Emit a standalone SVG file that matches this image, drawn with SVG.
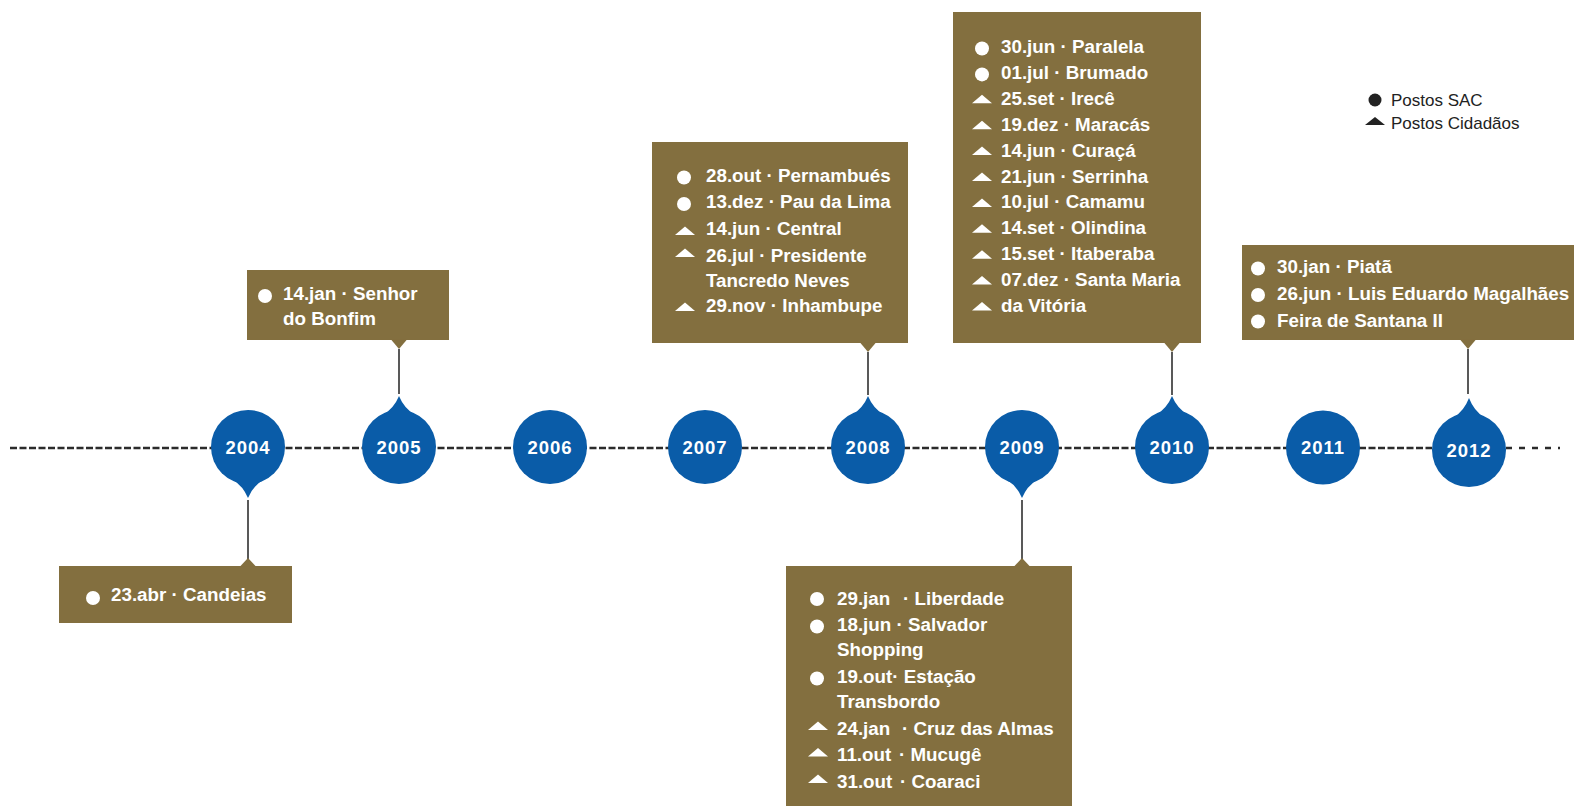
<svg xmlns="http://www.w3.org/2000/svg" xmlns:xlink="http://www.w3.org/1999/xlink" width="1574" height="806" viewBox="0 0 1574 806">
<style>
.box{fill:#836f3f}
.pin{fill:#0a5ca8}
.yr{fill:#fff;font-family:"Liberation Sans",Arial,sans-serif;font-weight:bold;font-size:18.5px;letter-spacing:1px;text-anchor:middle}
.t{fill:#fff;font-family:"Liberation Sans",Arial,sans-serif;font-weight:bold;font-size:18.8px}
.lg{fill:#222;font-family:"Liberation Sans",Arial,sans-serif;font-size:17px}
.conn{stroke:#222;stroke-width:1.5;fill:none}
.axis{stroke:#2b2b2b;stroke-width:2.7;fill:none}
.w{fill:#fff}
</style>
<defs>
<circle id="dot" r="7"/>
<path id="tri" d="M-10,0 L10,0 L0,-8.5 Z"/>
</defs>
<g id="axis">
<line class="axis" x1="10" y1="448" x2="1432" y2="448" stroke-dasharray="7 2.5"/>
<line class="axis" x1="1506" y1="448" x2="1560" y2="448" stroke-dasharray="6 7"/>
</g>
<g id="connectors">
<line class="conn" x1="248" y1="500" x2="248" y2="560"/>
<line class="conn" x1="399" y1="349" x2="399" y2="394"/>
<line class="conn" x1="868" y1="352" x2="868" y2="395"/>
<line class="conn" x1="1022" y1="500" x2="1022" y2="559"/>
<line class="conn" x1="1172" y1="352" x2="1172" y2="395"/>
<line class="conn" x1="1468" y1="349" x2="1468" y2="394"/>
</g>
<g id="y2004">
<circle class="pin" cx="248" cy="447" r="37"/>
<path class="pin" d="M233,480 Q243,486 248,498 Q253,486 263,480 Z"/>
<text class="yr" x="248" y="453.5">2004</text>
</g>
<g id="y2005">
<circle class="pin" cx="399" cy="447" r="37"/>
<path class="pin" d="M384,414 Q394,408 399,396 Q404,408 414,414 Z"/>
<text class="yr" x="399" y="453.5">2005</text>
</g>
<g id="y2006">
<circle class="pin" cx="550" cy="447" r="37"/>
<text class="yr" x="550" y="453.5">2006</text>
</g>
<g id="y2007">
<circle class="pin" cx="705" cy="447" r="37"/>
<text class="yr" x="705" y="453.5">2007</text>
</g>
<g id="y2008">
<circle class="pin" cx="868" cy="447" r="37"/>
<path class="pin" d="M853,414 Q863,408 868,396 Q873,408 883,414 Z"/>
<text class="yr" x="868" y="453.5">2008</text>
</g>
<g id="y2009">
<circle class="pin" cx="1022" cy="447" r="37"/>
<path class="pin" d="M1007,480 Q1017,486 1022,498 Q1027,486 1037,480 Z"/>
<text class="yr" x="1022" y="453.5">2009</text>
</g>
<g id="y2010">
<circle class="pin" cx="1172" cy="447" r="37"/>
<path class="pin" d="M1157,414 Q1167,408 1172,396 Q1177,408 1187,414 Z"/>
<text class="yr" x="1172" y="453.5">2010</text>
</g>
<g id="y2011">
<circle class="pin" cx="1323" cy="447.5" r="37"/>
<text class="yr" x="1323" y="453.5">2011</text>
</g>
<g id="y2012">
<circle class="pin" cx="1469" cy="450" r="37"/>
<path class="pin" d="M1454,417 Q1464,411 1469,398 Q1474,411 1484,417 Z"/>
<text class="yr" x="1469" y="457">2012</text>
</g>
<g id="box2004">
<rect class="box" x="59" y="566" width="233" height="57"/>
<path class="box" d="M240,566.5 L256,566.5 L248,558 Z"/>
<use href="#dot" class="w" x="93" y="598"/>
<text class="t" x="111" y="601">23.abr · Candeias</text>
</g>
<g id="box2005">
<rect class="box" x="247" y="270" width="202" height="70"/>
<path class="box" d="M391,339.5 L407,339.5 L399,349 Z"/>
<use href="#dot" class="w" x="265" y="296"/>
<text class="t" x="283" y="300">14.jan · Senhor</text>
<text class="t" x="283" y="325">do Bonfim</text>
</g>
<g id="box2007">
<rect class="box" x="652" y="142" width="256" height="201"/>
<path class="box" d="M860,342.5 L876,342.5 L868,352 Z"/>
<use href="#dot" class="w" x="684" y="177.5"/>
<use href="#dot" class="w" x="684" y="204"/>
<use href="#tri" class="w" x="685" y="235"/>
<use href="#tri" class="w" x="685" y="257"/>
<use href="#tri" class="w" x="685" y="311"/>
<text class="t" x="706" y="182">28.out · Pernambués</text>
<text class="t" x="706" y="208">13.dez · Pau da Lima</text>
<text class="t" x="706" y="235">14.jun · Central</text>
<text class="t" x="706" y="262">26.jul · Presidente</text>
<text class="t" x="706" y="287">Tancredo Neves</text>
<text class="t" x="706" y="312">29.nov · Inhambupe</text>
</g>
<g id="box2009">
<rect class="box" x="786" y="566" width="286" height="240"/>
<path class="box" d="M1014,566.5 L1030,566.5 L1022,558 Z"/>
<use href="#dot" class="w" x="817" y="599"/>
<use href="#dot" class="w" x="817" y="626.5"/>
<use href="#dot" class="w" x="817" y="678.5"/>
<use href="#tri" class="w" x="818" y="730"/>
<use href="#tri" class="w" x="818" y="756.5"/>
<use href="#tri" class="w" x="818" y="783"/>
<text class="t" x="837" y="604.5">29.jan<tspan x="903">· Liberdade</tspan></text>
<text class="t" x="837" y="630.5">18.jun · Salvador</text>
<text class="t" x="837" y="655.5">Shopping</text>
<text class="t" x="837" y="682.5">19.out· Estação</text>
<text class="t" x="837" y="707.5">Transbordo</text>
<text class="t" x="837" y="734.5">24.jan<tspan x="902">· Cruz das Almas</tspan></text>
<text class="t" x="837" y="761">11.out<tspan x="899">· Mucugê</tspan></text>
<text class="t" x="837" y="788">31.out<tspan x="900">· Coaraci</tspan></text>
</g>
<g id="box2010">
<rect class="box" x="953" y="12" width="248" height="331"/>
<path class="box" d="M1164,342.5 L1180,342.5 L1172,352 Z"/>
<use href="#dot" class="w" x="982" y="48.5"/>
<use href="#dot" class="w" x="982" y="74.4"/>
<use href="#tri" class="w" x="982" y="103.3"/>
<use href="#tri" class="w" x="982" y="129.2"/>
<use href="#tri" class="w" x="982" y="155.1"/>
<use href="#tri" class="w" x="982" y="181"/>
<use href="#tri" class="w" x="982" y="206.9"/>
<use href="#tri" class="w" x="982" y="232.8"/>
<use href="#tri" class="w" x="982" y="258.7"/>
<use href="#tri" class="w" x="982" y="284.6"/>
<use href="#tri" class="w" x="982" y="310.5"/>
<text class="t" x="1001" y="53">30.jun · Paralela</text>
<text class="t" x="1001" y="78.9">01.jul · Brumado</text>
<text class="t" x="1001" y="104.8">25.set · Irecê</text>
<text class="t" x="1001" y="130.7">19.dez · Maracás</text>
<text class="t" x="1001" y="156.6">14.jun · Curaçá</text>
<text class="t" x="1001" y="182.5">21.jun · Serrinha</text>
<text class="t" x="1001" y="208.4">10.jul · Camamu</text>
<text class="t" x="1001" y="234.3">14.set · Olindina</text>
<text class="t" x="1001" y="260.2">15.set · Itaberaba</text>
<text class="t" x="1001" y="286.1">07.dez · Santa Maria</text>
<text class="t" x="1001" y="312">da Vitória</text>
</g>
<g id="box2012">
<rect class="box" x="1242" y="245" width="332" height="95"/>
<path class="box" d="M1460,339.5 L1476,339.5 L1468,349 Z"/>
<use href="#dot" class="w" x="1258" y="268.5"/>
<use href="#dot" class="w" x="1258" y="295"/>
<use href="#dot" class="w" x="1258" y="321.5"/>
<text class="t" x="1277" y="272.5">30.jan · Piatã</text>
<text class="t" x="1277" y="299.5">26.jun · Luis Eduardo Magalhães</text>
<text class="t" x="1277" y="326.5">Feira de Santana II</text>
</g>
<g id="legend">
<circle cx="1375" cy="100" r="6.5" fill="#222"/>
<path d="M1365,125 L1385,125 L1375,117 Z" fill="#222"/>
<text class="lg" x="1391" y="106">Postos SAC</text>
<text class="lg" x="1391" y="128.5">Postos Cidadãos</text>
</g>
</svg>
